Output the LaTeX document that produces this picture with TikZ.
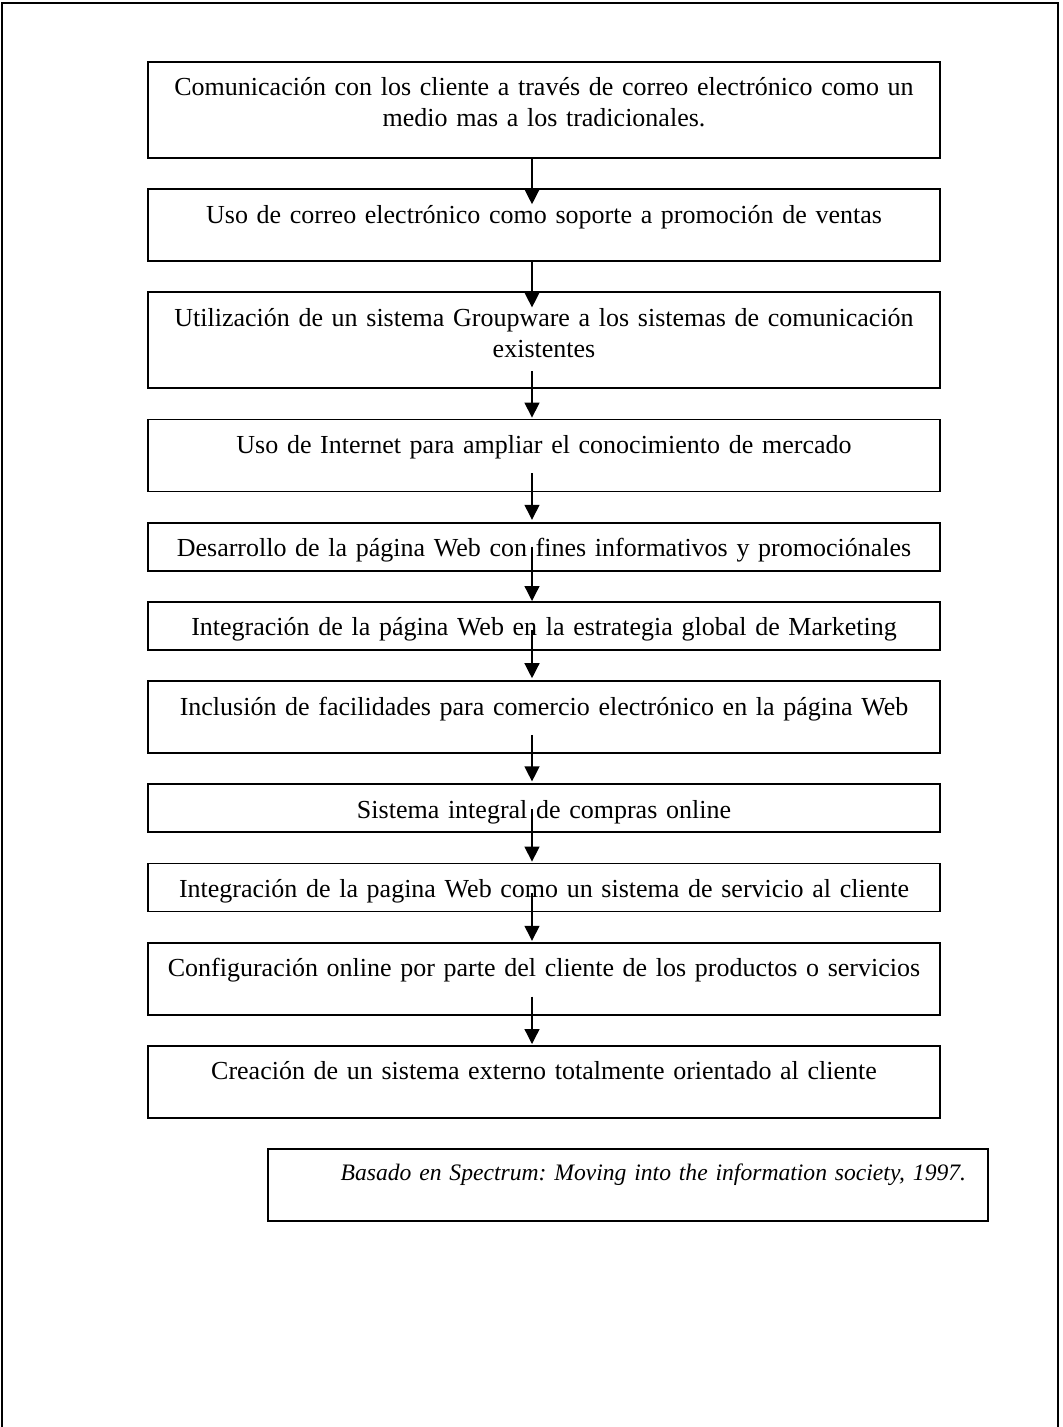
\documentclass[tikz,border=0pt]{standalone}
\usepackage{fontspec}
\setmainfont{Liberation Serif}
\usetikzlibrary{arrows.meta, positioning}
\frenchspacing

\begin{document}
\begin{tikzpicture}[node distance=14.75pt, >={Triangle[length=7.5pt, width=7.5pt]},
    paso/.style={rectangle, draw, line width=0.85pt, minimum width=396pt, text width=388pt, inner xsep=4pt, inner ysep=0pt, align=center, text height=17pt, font=\fontsize{13pt}{15.5pt}\selectfont},
    alto/.style={paso, text depth=31pt},
    medio/.style={paso, text depth=19pt},
    bajo/.style={paso, text depth=7pt},
    flecha/.style={->, line width=0.65pt}]
  \useasboundingbox (0,0) rectangle (531pt,-713.5pt);
  % marco de la pagina
  \draw[line width=1pt] (1pt,-713.5pt) -- (1pt,-1.5pt) -- (529pt,-1.5pt) -- (529pt,-713.5pt);

  \node[alto, anchor=north] (b1) at (272pt,-30.5pt) {Comunicación con los cliente a través de correo electrónico como un\\ medio mas a los tradicionales.};
  \node[medio, below=of b1] (b2) {Uso de correo electrónico como soporte a promoción de ventas};
  \node[alto, below=of b2] (b3) {Utilización de un sistema Groupware a los sistemas de comunicación\\ existentes};
  \node[medio, below=of b3] (b4) {Uso de Internet para ampliar el conocimiento de mercado};
  \node[bajo, below=of b4] (b5) {Desarrollo de la página Web con fines informativos y promociónales};
  \node[bajo, below=of b5] (b6) {Integración de la página Web en la estrategia global de Marketing};
  \node[medio, below=of b6] (b7) {Inclusión de facilidades para comercio electrónico en la página Web};
  \node[bajo, below=of b7] (b8) {Sistema integral de compras online};
  \node[bajo, below=of b8] (b9) {Integración de la pagina Web como un sistema de servicio al cliente};
  \node[medio, below=of b9] (b10) {Configuración online por parte del cliente de los productos o servicios};
  \node[medio, below=of b10] (b11) {Creación de un sistema externo totalmente orientado al cliente};
  % fuente
  \node[paso, below=of b11, xshift=42pt, minimum width=360pt, text width=338pt, inner xsep=11pt, align=right, text height=15.5pt, text depth=20.5pt, font=\fontsize{11.8pt}{14pt}\selectfont\itshape] (fuente) {Basado en Spectrum: Moving into the information society, 1997.};

  % flechas
  \draw[flecha, shorten >=-8pt] ([xshift=-6pt]b1.south) -- ([xshift=-6pt]b2.north);
  \draw[flecha, shorten >=-8pt] ([xshift=-6pt]b2.south) -- ([xshift=-6pt]b3.north);
  \draw[flecha, shorten <=-9pt, shorten >=0.5pt] ([xshift=-6pt]b3.south) -- ([xshift=-6pt]b4.north);
  \draw[flecha, shorten <=-9.5pt, shorten >=1pt] ([xshift=-6pt]b4.south) -- ([xshift=-6pt]b5.north);
  \draw[flecha, shorten <=-12.5pt] ([xshift=-6pt]b5.south) -- ([xshift=-6pt]b6.north);
  \draw[flecha, shorten <=-10.5pt, shorten >=1pt] ([xshift=-6pt]b6.south) -- ([xshift=-6pt]b7.north);
  \draw[flecha, shorten <=-9.5pt, shorten >=1pt] ([xshift=-6pt]b7.south) -- ([xshift=-6pt]b8.north);
  \draw[flecha, shorten <=-12pt, shorten >=0.5pt] ([xshift=-6pt]b8.south) -- ([xshift=-6pt]b9.north);
  \draw[flecha, shorten <=-9.5pt, shorten >=0.5pt] ([xshift=-6pt]b9.south) -- ([xshift=-6pt]b10.north);
  \draw[flecha, shorten <=-9.5pt, shorten >=0.5pt] ([xshift=-6pt]b10.south) -- ([xshift=-6pt]b11.north);
\end{tikzpicture}
\end{document}
